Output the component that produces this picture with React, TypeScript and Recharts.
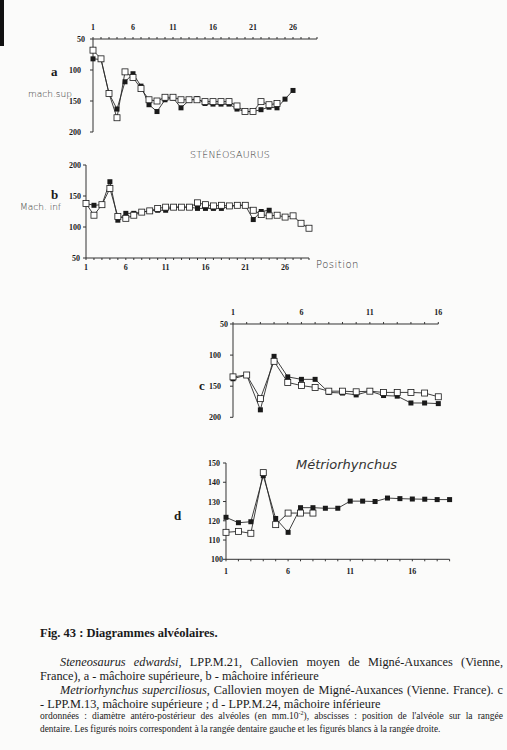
import React from "react";
import { LineChart, Line, XAxis, YAxis } from "recharts";

// Alveolar diameters (mm.10^-2) by alveole position.
// left = black squares (left tooth row), right = white squares (right tooth row)
const A_LEFT = [82, 83, 138, 163, 119, 106, 126, 156, 167, 148, 145, 161, 149, 146, 154, 155, 155, 155, 163, 167, 167, 164, 160, 161, 147, 133];
const A_RIGHT = [68, 82, 138, 177, 103, 112, 130, 148, 150, 144, 144, 148, 148, 148, 151, 151, 151, 151, 158, 167, 167, 151, 156, 154];

const B_LEFT = [138, 135, 136, 173, 111, 122, 122, 124, 126, 127, 127, 132, 132, 132, 130, 130, 130, 130, 133, 135, 135, 112, 125, 127];
const B_RIGHT = [138, 119, 136, 162, 117, 114, 119, 124, 126, 130, 132, 132, 132, 132, 139, 136, 134, 135, 134, 135, 135, 127, 120, 118, 119, 116, 118, 106, 98];

const C_LEFT = [138, 132, 188, 102, 135, 139, 139, 160, 161, 164, 158, 165, 166, 177, 177, 178];
const C_RIGHT = [135, 132, 170, 110, 144, 149, 152, 158, 158, 159, 158, 160, 160, 160, 161, 167];

const D_LEFT = [121.8, 119, 119.5, 143.4, 121.2, 114, 126.8, 126.8, 126.5, 126.5, 130.2, 130.2, 130, 131.8, 131.5, 131.3, 131.2, 131, 131];
const D_RIGHT = [114, 114.5, 113.5, 145, 118, 124, 124, 124];

const X_LABELS_LONG = [1, 6, 11, 16, 21, 26];
const X_LABELS_SHORT = [1, 6, 11, 16];
const Y_TICKS_WIDE = [50, 100, 150, 200];
const Y_TICKS_D = [100, 110, 120, 130, 140, 150];

const SERIF = '"Liberation Serif", "DejaVu Serif", serif';
const HAND = '"DejaVu Sans", sans-serif';
const INK = "#1a1a1a";

type Row = { pos: number; left: number | null; right: number | null };

function rows(left: number[], right: number[], n: number): Row[] {
  const out: Row[] = [];
  for (let i = 0; i < n; i++) {
    out.push({ pos: i + 1, left: left[i] ?? null, right: right[i] ?? null });
  }
  return out;
}

const filledSquare = (p: any) => {
  if (p.cx == null || p.cy == null || p.value == null) return <g key={`f${p.index}`} />;
  return <rect key={`f${p.index}`} x={p.cx - 2.5} y={p.cy - 2.5} width={5} height={5} fill={INK} />;
};

const openSquare = (p: any) => {
  if (p.cx == null || p.cy == null || p.value == null) return <g key={`o${p.index}`} />;
  return (
    <rect key={`o${p.index}`} x={p.cx - 3} y={p.cy - 3} width={6} height={6} fill="#fff" stroke={INK} strokeWidth={0.8} />
  );
};

const PAD_L = 45;
const PAD_T = 25;
const PAD_R = 15;

function Panel({
  data,
  x,
  y,
  w,
  h,
  xMax,
  xLabels,
  xTop,
  xGap,
  yDomain,
  yTicks,
  yReversed,
  yGaps,
}: {
  data: Row[];
  x: number;
  y: number;
  w: number;
  h: number;
  xMax: number;
  xLabels: number[];
  xTop: boolean;
  xGap: number;
  yDomain: [number, number];
  yTicks: number[];
  yReversed: boolean;
  yGaps: Record<number, number>;
}) {
  const minor: number[] = [];
  for (let i = 1; i <= xMax; i++) minor.push(i);

  return (
    <div style={{ position: "absolute", left: x - PAD_L, top: y - PAD_T }}>
      <LineChart
        width={w + PAD_L + PAD_R}
        height={h + 2 * PAD_T}
        data={data}
        margin={{ top: xTop ? 0 : PAD_T, bottom: xTop ? PAD_T : 0, left: 0, right: PAD_R }}
      >
        <XAxis
          dataKey="pos"
          type="number"
          domain={[1, xMax]}
          ticks={minor}
          interval={0}
          orientation={xTop ? "top" : "bottom"}
          height={PAD_T}
          tickSize={2}
          tickMargin={xGap}
          tickFormatter={(v) => (xLabels.includes(v) ? String(v) : "")}
          tick={{ fontSize: 8, fontWeight: 700, fill: INK, fontFamily: SERIF }}
          stroke="#333"
        />
        <YAxis
          type="number"
          domain={yDomain}
          ticks={yTicks}
          interval={0}
          reversed={yReversed}
          width={PAD_L}
          tickSize={3}
          stroke="#333"
          tick={(p: any) => (
            <text
              key={`y${p.index}`}
              x={PAD_L - (yGaps[p.payload.value] ?? 8)}
              y={p.y}
              dy={3}
              textAnchor="end"
              fontSize={8}
              fontWeight={700}
              fill={INK}
              fontFamily={SERIF}
            >
              {p.payload.value}
            </text>
          )}
        />
        <Line
          dataKey="left"
          stroke="#2a2a2a"
          strokeWidth={0.9}
          dot={filledSquare}
          activeDot={false}
          isAnimationActive={false}
        />
        <Line
          dataKey="right"
          stroke="#2a2a2a"
          strokeWidth={0.9}
          dot={openSquare}
          activeDot={false}
          isAnimationActive={false}
        />
      </LineChart>
    </div>
  );
}

function Abs({ x, y, children, style }: { x: number; y: number; children: React.ReactNode; style?: React.CSSProperties }) {
  return (
    <div style={{ position: "absolute", left: x, top: y, lineHeight: 1, whiteSpace: "nowrap", ...style }}>{children}</div>
  );
}

export default function App() {
  const letter: React.CSSProperties = { fontFamily: SERIF, fontWeight: 700, fontSize: 13, color: INK };
  const hand: React.CSSProperties = { fontFamily: HAND, fontSize: 9, color: "#333", fontWeight: 300 };
  const cap: React.CSSProperties = { fontFamily: SERIF, color: INK };

  return (
    <div
      style={{
        position: "absolute",
        left: 0,
        top: 0,
        width: 507,
        height: 750,
        background: "#fbfbfa",
        overflow: "hidden",
      }}
    >
      <div style={{ position: "absolute", left: 0, top: 0, width: 4, height: 46, background: "#111" }} />

      <Panel
        data={rows(A_LEFT, A_RIGHT, 26)}
        x={92.7}
        y={39}
        w={224}
        h={93}
        xMax={29}
        xLabels={X_LABELS_LONG}
        xTop
        xGap={7}
        yDomain={[50, 200]}
        yTicks={Y_TICKS_WIDE}
        yReversed
        yGaps={{ 50: 8, 100: 12, 150: 12, 200: 12 }}
      />
      <Panel
        data={rows(B_LEFT, B_RIGHT, 29)}
        x={85.5}
        y={165}
        w={223}
        h={93}
        xMax={29}
        xLabels={X_LABELS_LONG}
        xTop={false}
        xGap={4}
        yDomain={[50, 200]}
        yTicks={Y_TICKS_WIDE}
        yReversed={false}
        yGaps={{ 50: 6, 100: 5, 150: 5, 200: 5 }}
      />
      <Panel
        data={rows(C_LEFT, C_RIGHT, 16)}
        x={232.7}
        y={324}
        w={205.3}
        h={93.3}
        xMax={16}
        xLabels={X_LABELS_SHORT}
        xTop
        xGap={7}
        yDomain={[50, 200]}
        yTicks={Y_TICKS_WIDE}
        yReversed
        yGaps={{ 50: 5, 100: 12, 150: 12, 200: 12 }}
      />
      <Panel
        data={rows(D_LEFT, D_RIGHT, 19)}
        x={225.7}
        y={462.7}
        w={223.6}
        h={96.3}
        xMax={19}
        xLabels={X_LABELS_SHORT}
        xTop={false}
        xGap={7}
        yDomain={[100, 150]}
        yTicks={Y_TICKS_D}
        yReversed={false}
        yGaps={{ 100: 3, 110: 6, 120: 6, 130: 6, 140: 6, 150: 6 }}
      />

      <Abs x={51} y={65} style={letter}>a</Abs>
      <Abs x={51} y={188} style={letter}>b</Abs>
      <Abs x={199} y={379} style={letter}>c</Abs>
      <Abs x={174} y={509} style={letter}>d</Abs>

      <Abs x={28} y={90} style={hand}>mach.sup</Abs>
      <Abs x={190} y={150} style={{ ...hand, fontSize: 9.5, letterSpacing: 0.2 }}>STÉNÉOSAURUS</Abs>
      <Abs x={20} y={203} style={hand}>Mach. inf</Abs>
      <Abs x={316} y={260} style={{ ...hand, fontSize: 10, letterSpacing: 0.5 }}>Position</Abs>
      <Abs x={296} y={458} style={{ ...hand, fontSize: 13, fontStyle: "italic" }}>Métriorhynchus</Abs>

      <Abs x={40} y={627} style={{ ...cap, fontWeight: 700, fontSize: 12.5 }}>Fig. 43 : Diagrammes alvéolaires.</Abs>

      <Abs x={60} y={656} style={{ ...cap, fontSize: 12.3, width: 443, textAlign: "justify", textAlignLast: "justify" }}>
        <i>Steneosaurus edwardsi</i>, LPP.M.21, Callovien moyen de Migné-Auxances (Vienne,
      </Abs>
      <Abs x={40} y={670} style={{ ...cap, fontSize: 12.3 }}>
        France), a - mâchoire supérieure, b - mâchoire inférieure
      </Abs>
      <Abs x={60} y={684} style={{ ...cap, fontSize: 12.3, width: 443, textAlign: "justify", textAlignLast: "justify" }}>
        <i>Metriorhynchus superciliosus</i>, Callovien moyen de Migné-Auxances (Vienne. France). c
      </Abs>
      <Abs x={40} y={698} style={{ ...cap, fontSize: 12.3 }}>
        - LPP.M.13, mâchoire supérieure ; d - LPP.M.24, mâchoire inférieure
      </Abs>
      <Abs x={40} y={712} style={{ ...cap, fontSize: 9.5, width: 463, textAlign: "justify", textAlignLast: "justify" }}>
        ordonnées : diamètre antéro-postérieur des alvéoles (en mm.10<sup style={{ fontSize: 6, lineHeight: 0 }}>-2</sup>), abscisses : position de l'alvéole sur la rangée
      </Abs>
      <Abs x={40} y={725} style={{ ...cap, fontSize: 9.3 }}>
        dentaire. Les figurés noirs correspondent à la rangée dentaire gauche et les figurés blancs à la rangée droite.
      </Abs>
    </div>
  );
}
